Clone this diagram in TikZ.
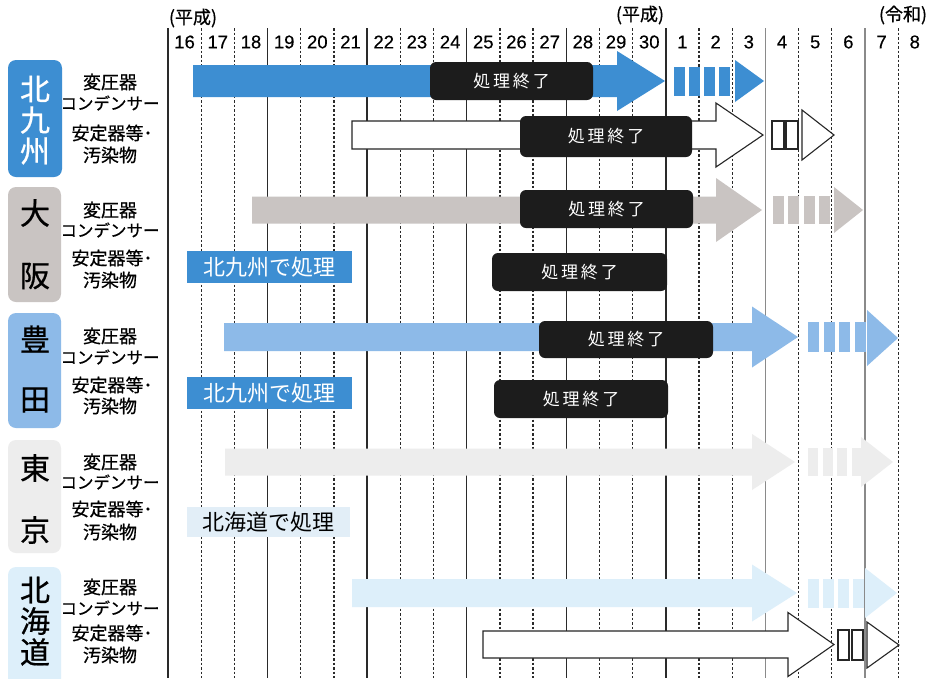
\documentclass[tikz,border=0pt]{standalone}
\usepackage{fontspec}
\setmainfont{Noto Sans CJK JP}
\newfontfamily\jpmed[FakeBold=0.7]{Noto Sans CJK JP}
\newfontfamily\numfont[FakeBold=0.3]{Liberation Sans}
\definecolor{kblue}{HTML}{3D8ED2}
\definecolor{ogray}{HTML}{C9C4C2}
\definecolor{tblue}{HTML}{8DBAE8}
\definecolor{tkgray}{HTML}{EDEDED}
\definecolor{hblue}{HTML}{DDEFFA}
\definecolor{hlab}{HTML}{E2EEF7}
\definecolor{boxblack}{HTML}{1C1C1C}
\definecolor{gridc}{HTML}{2A2A2A}
\definecolor{gridl}{HTML}{8A8A8A}
\newcommand\pcbArrow[7]{\path[#1] (#2,#5-#6) -- (#3,#5-#6) -- (#3,#5-#7) -- (#4,#5) -- (#3,#5+#7) -- (#3,#5+#6) -- (#2,#5+#6) -- cycle;}
\newcommand\pcbStripes[6]{\foreach \k in {0,1,2,3} {\path[#1] ({#2+\k*(#5+#6)},#3-#4) rectangle ++(#5,2*#4);}}
\newcommand\pcbRects[6]{\foreach \k in {0,1} {\path[#1] ({#2+\k*(#5+#6)},#3-#4) rectangle ++(#5,2*#4);}}
\newcommand\pcbTri[5]{\path[#1] (#2,#4-#5) -- (#3,#4) -- (#2,#4+#5) -- cycle;}
\begin{document}
\begin{tikzpicture}[x=1pt,y=-1pt,
  barK/.style={fill=kblue},
  barO/.style={fill=ogray},
  barT/.style={fill=tblue},
  barTK/.style={fill=tkgray},
  barH/.style={fill=hblue},
  barW/.style={fill=white, draw=black!85, line width=1.1pt, line join=miter},
  endbox/.style={fill=boxblack, rounded corners=6pt, text=white, font=\fontsize{17}{19}\selectfont, inner sep=0pt},
  viabox/.style={fill=kblue, text=white, font=\fontsize{22}{24}\selectfont, inner sep=0pt},
  yearlab/.style={font=\numfont\fontsize{18.5}{20}\selectfont, inner sep=0pt},
  era/.style={font=\jpmed\fontsize{18}{20}\selectfont, inner sep=0pt},
  cat/.style={font=\jpmed\fontsize{18}{20}\selectfont, inner sep=0pt},
  catn/.style={font=\jpmed\fontsize{16.5}{18}\selectfont, inner sep=0pt},
  big/.style={font=\jpmed\fontsize{30}{32}\selectfont, inner sep=0pt},
  gsolid/.style={draw=gridc, line width=1.3pt},
  gsolidl/.style={draw=gridl, line width=1.3pt},
  gdot/.style={draw=gridc, line width=1.3pt, dash pattern=on 2.5pt off 2pt}]
\useasboundingbox (0,0) rectangle (929,678);
\clip (0,0) rectangle (929,678);
\fill[white] (0,0) rectangle (929,678);
% grid
\foreach \i in {0,...,22} {
  \pgfmathtruncatemacro\m{mod(\i,3)}
  \ifnum\m=0
    \ifnum\i>16
      \draw[gsolidl] ({168+33.19*\i},28) -- ({168+33.19*\i},678);
    \else
      \draw[gsolid] ({168+33.19*\i},28) -- ({168+33.19*\i},678);
    \fi
  \else
    \draw[gdot] ({168+33.19*\i},28) -- ({168+33.19*\i},678);
  \fi
}
\foreach \lab [count=\i from 0] in {16,17,18,19,20,21,22,23,24,25,26,27,28,29,30,1,2,3,4,5,6,7,8}
  \node[yearlab] (yr\i) at ({168+33.19*(\i+0.5)},42) {\lab};
\node[era] (era1) at (193,18) {(平成)};
\node[era] (era2) at (640,15) {(平成)};
\node[era] (era3) at (903,15) {(令和)};
% left category boxes
\fill[kblue, rounded corners=8pt] (8,60) rectangle (62,177);
\fill[ogray, rounded corners=8pt] (8,187) rectangle (61,302);
\fill[tblue, rounded corners=8pt] (8,313) rectangle (61,428);
\fill[tkgray, rounded corners=8pt] (8,440) rectangle (61,553);
\fill[hblue, rounded corners=8pt] (8,567) rectangle (61,700);
\node[big, text=white] (c1a) at (35,89) {北};
\node[big, text=white] (c1b) at (35,120) {九};
\node[big, text=white] (c1c) at (35,151) {州};
\node[big] (c2a) at (35,213) {大};
\node[big] (c2b) at (35,276) {阪};
\node[big] (c3a) at (35,339) {豊};
\node[big] (c3b) at (35,400) {田};
\node[big] (c4a) at (35,468) {東};
\node[big] (c4b) at (35,530) {京};
\node[big] (c5a) at (35,590) {北};
\node[big] (c5b) at (35,621) {海};
\node[big] (c5c) at (35,652) {道};
% category text
\foreach \r/\ya/\yb/\yc/\yd in {1/82/103/133/155, 2/210/230/258/280, 3/336/357/385/406, 4/462/482/509/532, 5/587/608/633/655} {
  \node[cat] (t\r a) at (110,\ya) {変圧器};
  \node[catn] (t\r b) at (110,\yb) {コンデンサー};
  \node[cat] (t\r c) at (112,\yc) {安定器等･};
  \node[cat] (t\r d) at (110,\yd) {汚染物};
}
% row 1 Kitakyushu
\pcbArrow{barK}{193}{617}{665}{81}{16}{30}
\pcbStripes{barK}{674}{81}{14.5}{11}{4}
\pcbTri{barK}{735}{764}{81}{21}
\pcbArrow{barW}{352}{716}{763}{135}{14}{32}
\pcbRects{barW}{772}{135}{14}{12}{2}
\pcbTri{barW}{802}{834}{135}{25}
% row 2 Osaka
\pcbArrow{barO}{252}{716}{762}{210}{13.5}{32}
\pcbStripes{barO}{773}{210}{14}{11}{4.3}
\pcbTri{barO}{834}{863}{210}{23}
% row 3 Toyota
\pcbArrow{barT}{224}{752}{798}{337}{14}{30.5}
\pcbStripes{barT}{808}{337}{15}{11}{4.5}
\pcbTri{barT}{867}{898}{338}{28}
% row 4 Tokyo
\pcbArrow{barTK}{225}{752}{795}{462}{13.5}{28}
\pcbStripes{barTK}{808}{462}{14}{10}{4.5}
\pcbTri{barTK}{861}{893}{462}{25}
% row 5 Hokkaido
\pcbArrow{barH}{352}{752}{797}{593}{14}{28.5}
\pcbStripes{barH}{808}{593}{14.5}{10.5}{4.5}
\pcbTri{barH}{865}{897}{593}{25}
\pcbArrow{barW}{483}{788}{834}{644.5}{13.5}{32}
\pcbRects{barW}{838}{645}{15}{11}{3}
\pcbTri{barW}{867}{899}{645}{23}
% end boxes
\node[endbox, minimum width=163, minimum height=38] (e1) at (511.5,81) {処\,理\,終\,了};
\node[endbox, minimum width=172, minimum height=41] (e2) at (606,136.5) {処\,理\,終\,了};
\node[endbox, minimum width=173, minimum height=38] (e3) at (606.5,209) {処\,理\,終\,了};
\node[endbox, minimum width=175, minimum height=38] (e4) at (579.5,272) {処\,理\,終\,了};
\node[endbox, minimum width=174, minimum height=37] (e5) at (626,339.5) {処\,理\,終\,了};
\node[endbox, minimum width=174, minimum height=38] (e6) at (581,399) {処\,理\,終\,了};
% via labels
\node[viabox, minimum width=165, minimum height=32] (v2) at (269.5,267) {北九州で処理};
\node[viabox, minimum width=165, minimum height=32] (v3) at (269.5,393) {北九州で処理};
\node[viabox, fill=hlab, text=black, minimum width=163, minimum height=30] (v4) at (268.5,522) {北海道で処理};
\end{tikzpicture}
\end{document}
